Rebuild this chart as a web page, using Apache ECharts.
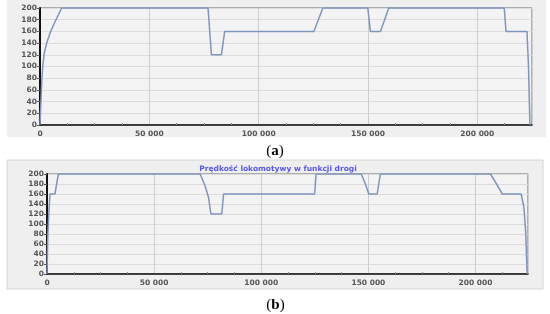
<!DOCTYPE html>
<html>
<head>
<meta charset="utf-8">
<script src="https://cdn.jsdelivr.net/npm/echarts@6/dist/echarts.min.js"></script>
<style>
  html, body { margin: 0; padding: 0; background: #fff; }
  #chart { width: 550px; height: 314px; }
</style>
</head>
<body>
<div id="chart"></div>
<script>
// (a) speed vs distance
const distA = [0, 460, 780, 1230, 1960, 3060, 4570, 6530, 8360, 9900, 76850, 78400, 82960, 84470,
  125250, 129350, 149900, 151100, 155700, 159500, 212300, 213100, 222700, 223400, 224050];
const speedA = [0, 43, 71, 100, 123, 140, 157, 174, 188, 200, 200, 120, 120, 160,
  160, 200, 200, 160, 160, 200, 200, 160, 160, 100, 0];

// (b) "Prędkość lokomotywy w funkcji drogi"
const distB = [0, 150, 400, 900, 1400, 3700, 5300, 71500, 73800, 75400, 76500, 81600, 82400,
  124900, 125600, 146700, 148600, 150200, 154100, 155600, 207000, 209400, 212500,
  221300, 222600, 223400, 224100];
const speedB = [0, 30, 80, 125, 160, 160, 200, 200, 176, 153, 120, 120, 160,
  160, 200, 200, 180, 160, 160, 200, 200, 183, 160,
  160, 133, 85, 0];

const yTicks = { min: 0, max: 200, interval: 20 };
const xTicks = { min: 0, interval: 50000 };
const TITLE_B = "Prędkość lokomotywy w funkcji drogi";

const LINIA = "#7f95bd";
const ROTULO = { color: "#555", fontSize: 7.5, fontFamily: "DejaVu Sans", fontWeight: "bold" };

const milhar = (v) => String(v).replace(/\B(?=(\d{3})+(?!\d))/g, " ");
const pares = (xs, ys) => xs.map((x, i) => [x, ys[i]]);

function eixoX(grid, max) {
  return {
    type: "value", gridIndex: grid, min: xTicks.min, max, interval: xTicks.interval,
    axisLine: { lineStyle: { color: "#111", width: 1.5 } },
    axisTick: { show: false, inside: true },
    minorTick: { show: true, splitNumber: 4, length: 2, lineStyle: { color: "#888" } },
    axisLabel: { ...ROTULO, margin: 5, showMaxLabel: false, formatter: milhar },
    splitLine: { lineStyle: { color: "#cdcdcd" } },
  };
}

function eixoY(grid) {
  return {
    type: "value", gridIndex: grid, ...yTicks,
    axisLine: { show: true, lineStyle: { color: "#111", width: 2 } },
    axisTick: { show: true, length: 3, lineStyle: { color: "#555" } },
    axisLabel: { ...ROTULO, margin: 3 },
    splitLine: { lineStyle: { color: "#dcdcdc" } },
  };
}

function serie(i, xs, ys) {
  return {
    type: "line", xAxisIndex: i, yAxisIndex: i, data: pares(xs, ys),
    showSymbol: false, lineStyle: { color: LINIA, width: 1.5 },
  };
}

const g = echarts.init(document.getElementById("chart"));
g.setOption({
  animation: false,
  grid: [
    { left: 40, top: 8, right: 18, bottom: 189, show: true, backgroundColor: "#f3f3f3", borderColor: "#6a6a6a", borderWidth: 1 },
    { left: 47, top: 174, right: 22, bottom: 40, show: true, backgroundColor: "#f3f3f3", borderColor: "#6a6a6a", borderWidth: 1 },
  ],
  xAxis: [eixoX(0, 225000), eixoX(1, 224500)],
  yAxis: [eixoY(0), eixoY(1)],
  series: [serie(0, distA, speedA), serie(1, distB, speedB)],
  graphic: [
    { type: "rect", z: -10, shape: { x: 7, y: 0, width: 539, height: 137 }, style: { fill: "#efefef" } },
    { type: "rect", z: -10, shape: { x: 7, y: 160, width: 536, height: 129 }, style: { fill: "#efefef", stroke: "#d6d6d6" } },
    { type: "text", z: 10, x: 278, y: 169, style: { text: TITLE_B, fill: "#5858f0", font: "bold 7.5px DejaVu Sans", textAlign: "center", textVerticalAlign: "middle" } },
    { type: "text", z: 10, x: 275, y: 151, style: { text: "{p|(}{b|a}{p|)}", textAlign: "center", textVerticalAlign: "middle",
        rich: { p: { font: "15px Liberation Serif", fill: "#000" }, b: { font: "bold 15px Liberation Serif", fill: "#000" } } } },
    { type: "text", z: 10, x: 275.5, y: 305, style: { text: "{p|(}{b|b}{p|)}", textAlign: "center", textVerticalAlign: "middle",
        rich: { p: { font: "15px Liberation Serif", fill: "#000" }, b: { font: "bold 15px Liberation Serif", fill: "#000" } } } },
  ],
});
</script>
</body>
</html>
